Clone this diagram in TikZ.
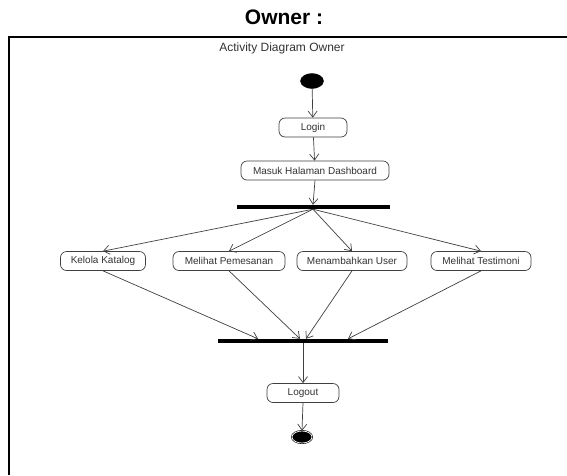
\documentclass[tikz,border=0pt]{standalone}
\usepackage{fontspec}
\setmainfont{Liberation Sans}
\usetikzlibrary{arrows.meta,calc,shapes.geometric}
\begin{document}
\begin{tikzpicture}[x=1pt,y=-1pt,
  act/.style={draw=black!75, line width=0.7pt, rounded corners=6pt, minimum height=19pt,
    inner xsep=2pt, inner ysep=0pt, font=\fontsize{10}{12}\selectfont, text=black!80, fill=white},
  barnode/.style={fill=black, draw=none, minimum height=4pt, inner sep=0pt},
  flow/.style={draw=black!75, line width=0.7pt, -{Straight Barb[length=6pt,width=9pt]}},
  startnode/.style={ellipse, fill=black, draw=black, minimum width=23pt, minimum height=15pt, inner sep=0pt},
  endnode/.style={ellipse, fill=black, draw=black, line width=0.6pt, double=white, double distance=0.7pt,
    minimum width=20pt, minimum height=12pt, inner sep=0pt},
  frameline/.style={draw=black, line width=2pt}
]
\useasboundingbox (0,0) rectangle (567,475);
\fill[white] (0,0) rectangle (567,475);

% heading and frame
\node[font=\bfseries\fontsize{21}{24}\selectfont] (head) at (284,17) {Owner :};
\coordinate (fr1) at (567,37);
\coordinate (fr2) at (9,37);
\coordinate (fr3) at (9,475);
\draw[frameline] (fr1) -- (fr2) -- (fr3);
\node[font=\fontsize{12}{14}\selectfont, text=black!80] (title) at (282,48) {Activity Diagram Owner};

% nodes
\node[startnode] (start) at (312,81) {};
\node[act, minimum width=68pt] (login) at (313,127.5) {Login};
\node[act, minimum width=148pt] (masuk) at (315,170.5) {Masuk Halaman Dashboard};
\node[barnode, minimum width=153pt] (fork) at (313,207) {};
\node[act, minimum width=85pt] (kelola) at (103,261) {Kelola Katalog};
\node[act, minimum width=112pt] (pesan) at (229,261) {Melihat Pemesanan};
\node[act, minimum width=110pt] (user) at (352,261) {Menambahkan User};
\node[act, minimum width=100pt] (testi) at (481,261) {Melihat Testimoni};
\node[barnode, minimum width=170pt] (join) at (303,341) {};
\node[act, minimum width=72pt] (logout) at (303,393) {Logout};
\node[endnode] (end) at (302,437) {};

% connectors
\draw[flow] (start) -- (login);
\draw[flow] (login) -- (masuk);
\draw[flow] (masuk.south) -- (fork.north);
\draw[flow] (fork.south) -- (kelola.north);
\draw[flow] (fork.south) -- (pesan.north);
\draw[flow] (fork.south) -- (user.north);
\draw[flow] (fork.south) -- (testi.north);
\draw[flow] (kelola.south) -- ($(join.north)+(-45,0)$);
\draw[flow] (pesan.south) -- ($(join.north)+(-3,0)$);
\draw[flow] (user.south) -- ($(join.north)+(3,0)$);
\draw[flow] (testi.south) -- ($(join.north)+(45,0)$);
\draw[flow] (join.south) -- (logout.north);
\draw[flow] (logout.south) -- (end.north);
\end{tikzpicture}
\end{document}
